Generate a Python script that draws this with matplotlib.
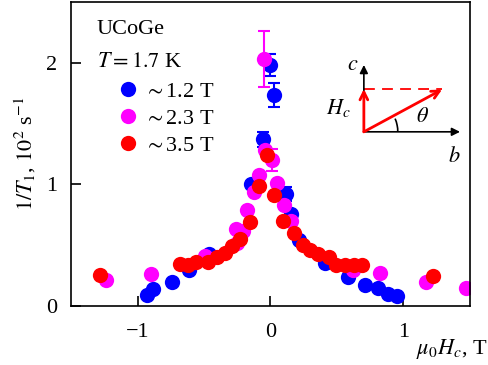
import numpy as np
import matplotlib
matplotlib.use("Agg")
from matplotlib import pyplot as plt
from matplotlib.patches import Arc

plt.rcParams['font.family'] = ['Liberation Serif', 'DejaVu Serif']
plt.rcParams['mathtext.fontset'] = 'stix'

FS = 16

# 1/T1 vs field component along c, three applied fields
x_12 = [-0.93, -0.88, -0.74, -0.61, -0.46, -0.145, -0.06, -0.005, 0.03, 0.113,
        0.155, 0.215, 0.41, 0.58, 0.71, 0.81, 0.885, 0.95]
y_12 = [0.09, 0.14, 0.20, 0.295, 0.43, 1.0, 1.37, 1.98, 1.735, 0.92,
        0.76, 0.54, 0.35, 0.24, 0.17, 0.145, 0.10, 0.08]
e_12 = [0, 0, 0, 0, 0, 0, 0.065, 0.09, 0.10, 0.06,
        0, 0, 0, 0, 0, 0, 0, 0]

x_23 = [-1.24, -0.90, -0.49, -0.26, -0.255, -0.21, -0.175, -0.125, -0.088, -0.05,
        -0.04, 0.01, 0.05, 0.10, 0.155, 0.62, 0.82, 1.17, 1.47]
y_23 = [0.21, 0.26, 0.41, 0.63, 0.52, 0.615, 0.79, 0.94, 1.08, 2.03,
        1.28, 1.20, 1.01, 0.83, 0.70, 0.295, 0.27, 0.20, 0.145]
e_23 = [0, 0, 0, 0, 0, 0, 0, 0, 0, 0.23,
        0, 0.09, 0, 0, 0, 0, 0, 0, 0]

x_35 = [-1.28, -0.68, -0.62, -0.56, -0.47, -0.405, -0.345, -0.29, -0.23, -0.155,
        -0.083, -0.025, 0.03, 0.095, 0.175, 0.245, 0.30, 0.36, 0.44, 0.49,
        0.56, 0.63, 0.69, 1.22]
y_35 = [0.255, 0.345, 0.34, 0.36, 0.36, 0.40, 0.44, 0.49, 0.55, 0.69,
        0.99, 1.24, 0.91, 0.70, 0.60, 0.50, 0.46, 0.43, 0.40, 0.34,
        0.34, 0.34, 0.34, 0.25]

series = [(x_12, y_12, e_12, '#0000ff', r'$\sim$1.2 T'),
          (x_23, y_23, e_23, '#ff00ff', r'$\sim$2.3 T'),
          (x_35, y_35, None, '#ff0000', r'$\sim$3.5 T')]

fig = plt.figure(figsize=(4.88, 3.65), dpi=100)
ax = fig.add_axes([0.1455, 0.1616, 0.8176, 0.8329])

for x, y, e, col, lab in series:
    x = np.array(x)
    y = np.array(y)
    if e is not None:
        e = np.array(e)
        m = e > 0
        ax.errorbar(x[m], y[m], yerr=e[m], fmt='none', ecolor=col,
                    elinewidth=1.5, capsize=4.5, capthick=1.5)
    ax.plot(x, y, 'o', color=col, ms=11, mec='none', label=lab)

ax.set_xlim(-1.5, 1.5)
ax.set_ylim(0, 2.5)
ax.set_xticks([-1, 0, 1])
ax.set_yticks([0, 1, 2])
ax.set_xticklabels(['\u22121', '0', '1'])
ax.tick_params(direction='in', length=7, width=1.2, labelsize=FS, pad=12)
ax.tick_params(axis='y', pad=10)
for s in ax.spines.values():
    s.set_linewidth(1.2)

ax.set_ylabel(r'$1/T_1$, $10^2$ s$^{-1}$', fontsize=FS, labelpad=6)
ax.text(1.045, -0.14, r'$\mu_0H_c$, T', transform=ax.transAxes,
        ha='right', va='center', fontsize=FS)

ax.text(0.065, 0.91, 'UCoGe', transform=ax.transAxes, fontsize=FS,
        va='center')
ax.text(0.065, 0.80, r'$T = 1.7$ K', transform=ax.transAxes, fontsize=FS,
        va='center')
ax.legend(loc='upper left', bbox_to_anchor=(0.12, 0.74), frameon=False,
          fontsize=FS, handletextpad=0.35, labelspacing=0.3,
          borderpad=0, borderaxespad=0, handlelength=0.8)

# field geometry sketch
o = (0.734, 0.573)
black = dict(arrowstyle='-|>', color='black', lw=1.2,
             mutation_scale=12, shrinkA=0, shrinkB=0)
red = dict(arrowstyle='->', color='red', lw=2,
           mutation_scale=14, shrinkA=0, shrinkB=0)
ax.annotate('', xy=(o[0], 0.793), xytext=o, xycoords='axes fraction',
            arrowprops=black)
ax.annotate('', xy=(0.975, o[1]), xytext=o, xycoords='axes fraction',
            arrowprops=black)
ax.plot([o[0], 0.93], [0.714, 0.714], '--', color='red', lw=1.3,
        transform=ax.transAxes, dashes=(6, 4))
ax.annotate('', xy=(o[0], 0.714), xytext=o, xycoords='axes fraction',
            arrowprops=red)
ax.annotate('', xy=(0.93, 0.712), xytext=o, xycoords='axes fraction',
            arrowprops=red)
ax.add_patch(Arc(o, 0.17, 0.223, theta1=0, theta2=29, transform=ax.transAxes,
                 color='black', lw=1.2))
ax.text(0.705, 0.79, r'$c$', transform=ax.transAxes, fontsize=FS,
        ha='center', va='center')
ax.text(0.67, 0.65, r'$H_c$', transform=ax.transAxes, fontsize=FS,
        ha='center', va='center')
ax.text(0.88, 0.62, r'$\theta$', transform=ax.transAxes, fontsize=FS,
        ha='center', va='center')
ax.text(0.96, 0.49, r'$b$', transform=ax.transAxes, fontsize=FS,
        ha='center', va='center')

fig.savefig('out.png', dpi=100)
